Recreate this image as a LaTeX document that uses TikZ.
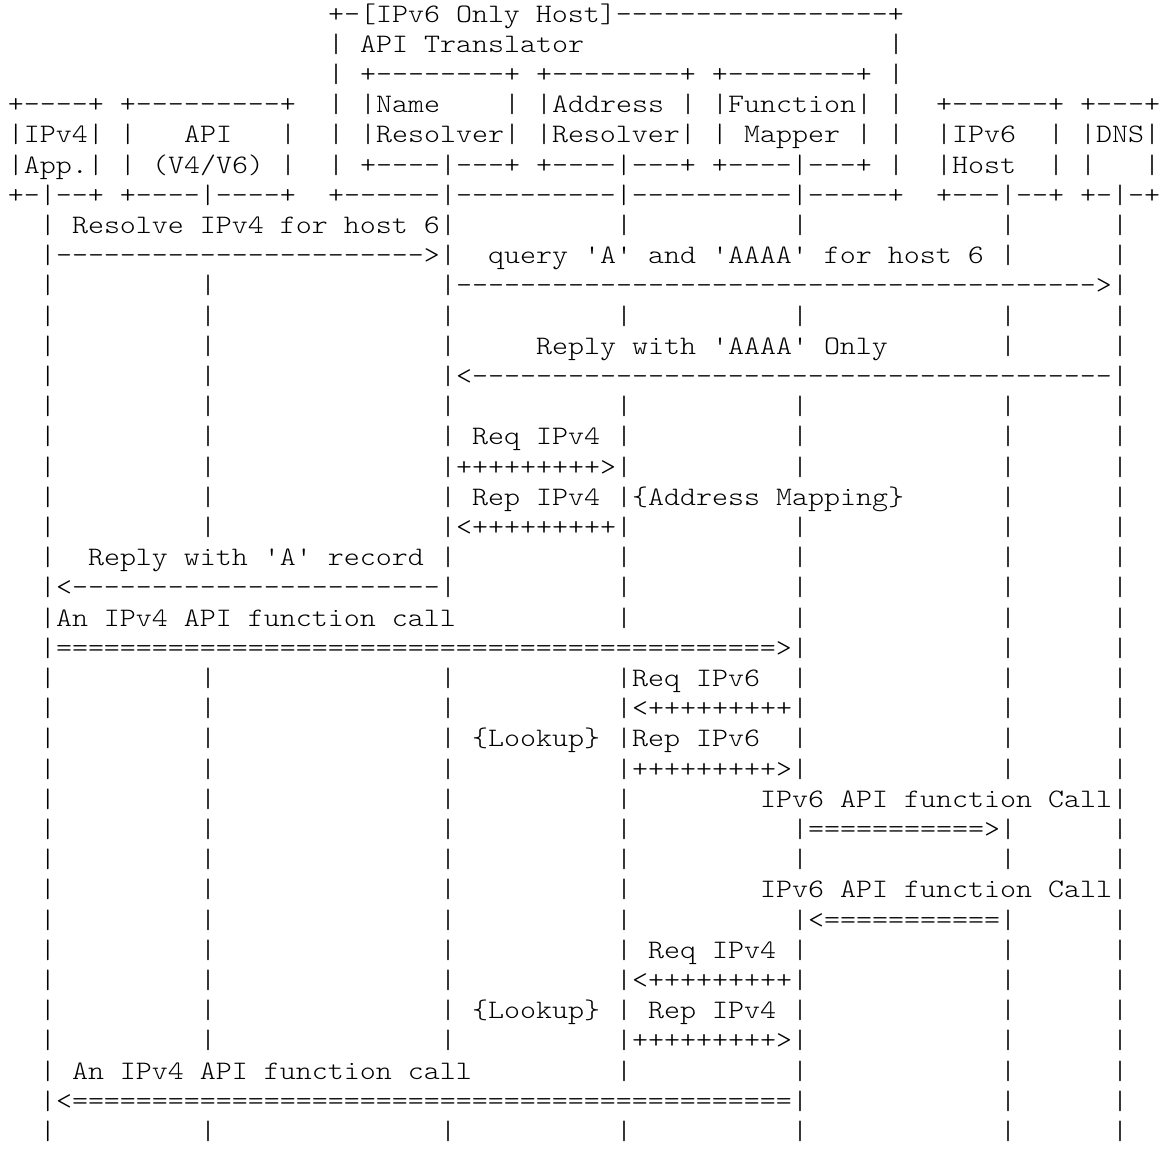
\documentclass[tikz,border=0pt]{standalone}
\usepackage{fontspec}
\setmonofont{lmmonolt10-regular}[Extension=.otf,FakeStretch=1.1431]
\tikzset{
  txt/.style={anchor=base west,inner sep=0pt,outer sep=0pt,font=\ttfamily\fontsize{13.33pt}{15.1pt}\selectfont},
}

\begin{document}
\begin{tikzpicture}[x=8pt,y=-15.1pt,every node/.style={txt}]
  \useasboundingbox (-0.5,0.2715) rectangle (72,38.285);
  % participant boxes
  \node (host) at (20,1) {+-[IPv6 Only Host]-----------------+};
  \node (h2l) at (20,2) {|};
  \node (trans) at (22,2) {API Translator};
  \node (h2r) at (55,2) {|};
  \node (h3l) at (20,3) {|};
  \node (tops) at (22,3) {+--------+ +--------+ +--------+};
  \node (h3r) at (55,3) {|};
  \node (app4) at (0,4) {+----+ +---------+};
  \node (h4l) at (20,4) {|};
  \node (name) at (22,4) {|Name};
  \node (name4r) at (31,4) {|};
  \node (addr) at (33,4) {|Address};
  \node (addr4r) at (42,4) {|};
  \node (func) at (44,4) {|Function|};
  \node (h4r) at (55,4) {|};
  \node (v6dns4) at (58,4) {+------+ +---+};
  \node (app5) at (0,5) {|IPv4| |};
  \node (api) at (11,5) {API};
  \node (api5r) at (17,5) {|};
  \node (h5l) at (20,5) {|};
  \node (res) at (22,5) {|Resolver| |Resolver| |};
  \node (mapper) at (46,5) {Mapper};
  \node (func5r) at (53,5) {|};
  \node (h5r) at (55,5) {|};
  \node (v6) at (58,5) {|IPv6};
  \node (dns) at (65,5) {| |DNS|};
  \node (app6) at (0,6) {|App.| |};
  \node (apiver) at (9,6) {(V4/V6)};
  \node (api6r) at (17,6) {|};
  \node (h6l) at (20,6) {|};
  \node (bots) at (22,6) {+----|---+ +----|---+ +----|---+};
  \node (h6r) at (55,6) {|};
  \node (v6host) at (58,6) {|Host};
  \node (dns6) at (65,6) {| |};
  \node (dns6r) at (71,6) {|};
  \node (app7) at (0,7) {+-|--+ +----|----+};
  \node (host7) at (20,7) {+------|----------|----------|-----+};
  \node (v6dns7) at (58,7) {+---|--+ +-|-+};
  % lifelines
  \foreach \c/\a/\b in {2/8/38, 12/10/18, 12/23/35, 12/38/38, 27/8/20, 27/23/35, 27/38/38,
      38/8/8, 38/11/11, 38/14/21, 38/23/36, 38/38/38, 49/8/8, 49/11/11, 49/14/16, 49/18/26,
      49/28/29, 49/31/38, 62/8/9, 62/11/12, 62/14/26, 62/28/29, 62/31/38, 69/8/38}
    \foreach \r in {\a,...,\b}
      \node (ll-\c-\r) at (\c,\r) {|};
  % messages
  \node (resolve) at (4,8) {Resolve IPv4 for host 6};
  \node (resolvearr) at (3,9) {----------------------->};
  \node (query) at (30,9) {query 'A' and 'AAAA' for host 6};
  \node (queryarr) at (28,10) {---------------------------------------->};
  \node (reply) at (33,12) {Reply with 'AAAA' Only};
  \node (replyarr) at (28,13) {<----------------------------------------};
  \node (req4) at (29,15) {Req IPv4};
  \node (req4arr) at (28,16) {+++++++++>};
  \node (rep4) at (29,17) {Rep IPv4};
  \node (mapping) at (39,17) {\{Address Mapping\}};
  \node (rep4arr) at (28,18) {<+++++++++};
  \node (areply) at (5,19) {Reply with 'A' record};
  \node (areplyarr) at (3,20) {<-----------------------};
  \node (call4) at (3,21) {An IPv4 API function call};
  \node (call4arr) at (3,22) {=============================================>};
  \node (req6) at (39,23) {Req IPv6};
  \node (req6arr) at (39,24) {<+++++++++};
  \node (lookup1) at (29,25) {\{Lookup\}};
  \node (rep6) at (39,25) {Rep IPv6};
  \node (rep6arr) at (39,26) {+++++++++>};
  \node (call6) at (47,27) {IPv6 API function Call};
  \node (call6arr) at (50,28) {===========>};
  \node (ret6) at (47,30) {IPv6 API function Call};
  \node (ret6arr) at (50,31) {<===========};
  \node (req4b) at (40,32) {Req IPv4};
  \node (req4barr) at (39,33) {<+++++++++};
  \node (lookup2) at (29,34) {\{Lookup\}};
  \node (rep4b) at (40,34) {Rep IPv4};
  \node (rep4barr) at (39,35) {+++++++++>};
  \node (ret4) at (4,36) {An IPv4 API function call};
  \node (ret4arr) at (3,37) {<=============================================};
\end{tikzpicture}
\end{document}
